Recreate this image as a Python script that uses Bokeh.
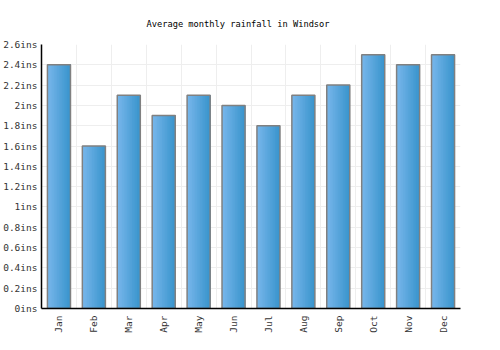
from bokeh.plotting import figure
from bokeh.models import ColumnDataSource, FixedTicker, CustomJSTickFormatter, Range1d
from bokeh.transform import dodge
from bokeh.embed import file_html
from bokeh.resources import INLINE
import math

months = ["Jan", "Feb", "Mar", "Apr", "May", "Jun", "Jul", "Aug", "Sep", "Oct", "Nov", "Dec"]
rainfall = [2.4, 1.6, 2.1, 1.9, 2.1, 2.0, 1.8, 2.1, 2.2, 2.5, 2.4, 2.5]
y_ticks = [0, 0.2, 0.4, 0.6, 0.8, 1.0, 1.2, 1.4, 1.6, 1.8, 2.0, 2.2, 2.4, 2.6]
title = "Average monthly rainfall in Windsor"
unit = "ins"

FONT = "DejaVu Sans Mono"
xpos = [i + 0.5 for i in range(len(months))]
src = ColumnDataSource(dict(x=xpos, top=rainfall, m=months))

p = figure(width=500, height=350, output_backend="svg", toolbar_location=None,
           x_range=Range1d(0, len(months)), y_range=Range1d(0, 2.6),
           min_border_left=40, min_border_right=40, min_border_top=44, min_border_bottom=42)
p.title.text = title
p.title.align = "left"
p.title.offset = 105
p.title.text_font = FONT
p.title.text_font_size = "8.7px"
p.title.text_font_style = "normal"
p.title.text_color = "#000000"
p.title.standoff = 32
p.outline_line_color = None
p.background_fill_color = "white"

# gradient bars (left light -> right darker), layered with right edges aligned
W = 0.66
n = 14
c0 = (0x76, 0xb5, 0xea)
c1 = (0x3a, 0x95, 0xcd)
for k in range(n):
    t = k / (n - 1)
    col = "#%02x%02x%02x" % tuple(round(a + (b - a) * t) for a, b in zip(c0, c1))
    wk = W * (n - k) / n
    off = W / 2 - wk / 2
    p.vbar(x=dodge("x", off), top="top", bottom=0, width=wk, source=src,
           fill_color=col, line_color=None)
p.vbar(x="x", top="top", bottom=0, width=W, source=src, fill_color=None,
       line_color="#808080", line_width=1.5)

# axes
p.yaxis.ticker = FixedTicker(ticks=y_ticks)
p.yaxis.formatter = CustomJSTickFormatter(code="return (Math.round(tick*10)/10) + '%s';" % unit)
p.xaxis.ticker = FixedTicker(ticks=xpos)
p.xaxis.major_label_overrides = {x: m for x, m in zip(xpos, months)}
p.xaxis.major_label_orientation = math.pi / 2
for ax in (p.xaxis, p.yaxis):
    ax.axis_line_color = "black"
    ax.axis_line_width = 1.5
    ax.major_tick_line_color = None
    ax.minor_tick_line_color = None
    ax.major_tick_out = 0
    ax.major_tick_in = 0
    ax.minor_tick_out = 0
    ax.major_label_text_font = FONT
    ax.major_label_text_font_size = "9.5px"
    ax.major_label_text_color = "#333333"
p.yaxis.major_label_standoff = 4
p.xaxis.major_label_standoff = 7

p.xgrid.ticker = FixedTicker(ticks=list(range(0, len(months) + 1)))
p.xgrid.grid_line_color = "#eeeeee"
p.ygrid.grid_line_color = "#eeeeee"
p.xgrid.grid_line_width = 1
p.ygrid.grid_line_width = 1

open("out.html", "w").write(file_html(p, INLINE))
